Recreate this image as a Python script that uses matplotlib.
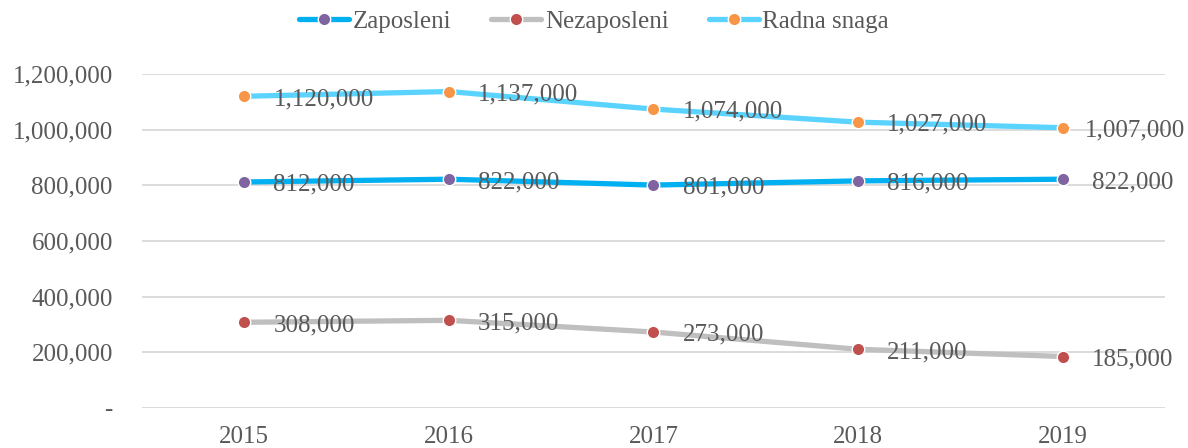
import matplotlib
matplotlib.use('Agg')
import matplotlib.pyplot as plt
from matplotlib.ticker import FuncFormatter

years = ['2015', '2016', '2017', '2018', '2019']
zaposleni = [812000, 822000, 801000, 816000, 822000]
nezaposleni = [308000, 315000, 273000, 211000, 185000]
radna_snaga = [1120000, 1137000, 1074000, 1027000, 1007000]

txt = '#595959'
fs = 18
plt.rcParams['font.family'] = ['Liberation Serif', 'DejaVu Serif']

fig = plt.figure(figsize=(11.88, 4.48), dpi=100)
ax = fig.add_axes([0.1195, 0.0893, 0.8611, 0.7455])

series = [
    ('Zaposleni', zaposleni, '#00B0F0', '#8064A2'),
    ('Nezaposleni', nezaposleni, '#BFBFBF', '#C0504D'),
    ('Radna snaga', radna_snaga, '#5BD3FF', '#F79646'),
]
x = list(range(len(years)))
labels = []
for name, vals, lc, mc in series:
    ax.plot(x, vals, color=lc, lw=3.8, marker='o', ms=9, mfc=mc, mec='white',
            mew=1.0, label=name, solid_capstyle='round', zorder=3)
    for xi, v in zip(x, vals):
        labels.append(ax.annotate(f'{v:,}', (xi, v), xytext=(21, -2), textcoords='offset points',
                                  ha='left', va='center', fontsize=fs, color=txt, zorder=4))

ax.set_xlim(-0.5, 4.5)
ax.set_ylim(0, 1200000)
ax.set_yticks(range(0, 1200001, 200000))
ax.yaxis.set_major_formatter(FuncFormatter(lambda v, p: '-' if v == 0 else f'{int(v):,}'))
ax.set_xticks(x)
ax.set_xticklabels(years)
ax.tick_params(axis='both', length=0, labelsize=fs, labelcolor=txt)
ax.tick_params(axis='y', pad=21)
ax.tick_params(axis='x', pad=13)
ax.grid(axis='y', color='#D9D9D9', lw=1.3)
ax.set_axisbelow(True)
for s in ax.spines.values():
    s.set_visible(False)

leg = fig.legend(loc='center', bbox_to_anchor=(0.5, 1 - 22 / 448), ncol=3, frameon=False,
                 fontsize=fs, handlelength=2.0, columnspacing=1.6, handletextpad=0.15)
for t in leg.get_texts():
    t.set_color(txt)

# keep data labels inside the figure, like Excel does
fig.canvas.draw()
r = fig.canvas.get_renderer()
W = fig.bbox.width
for t in labels:
    bb = t.get_window_extent(r)
    if bb.x1 > W - 3:
        dx, dy = t.xyann
        t.xyann = (dx - (bb.x1 - (W - 3)) * 72 / fig.dpi, dy)

fig.savefig('out.png', dpi=100)
